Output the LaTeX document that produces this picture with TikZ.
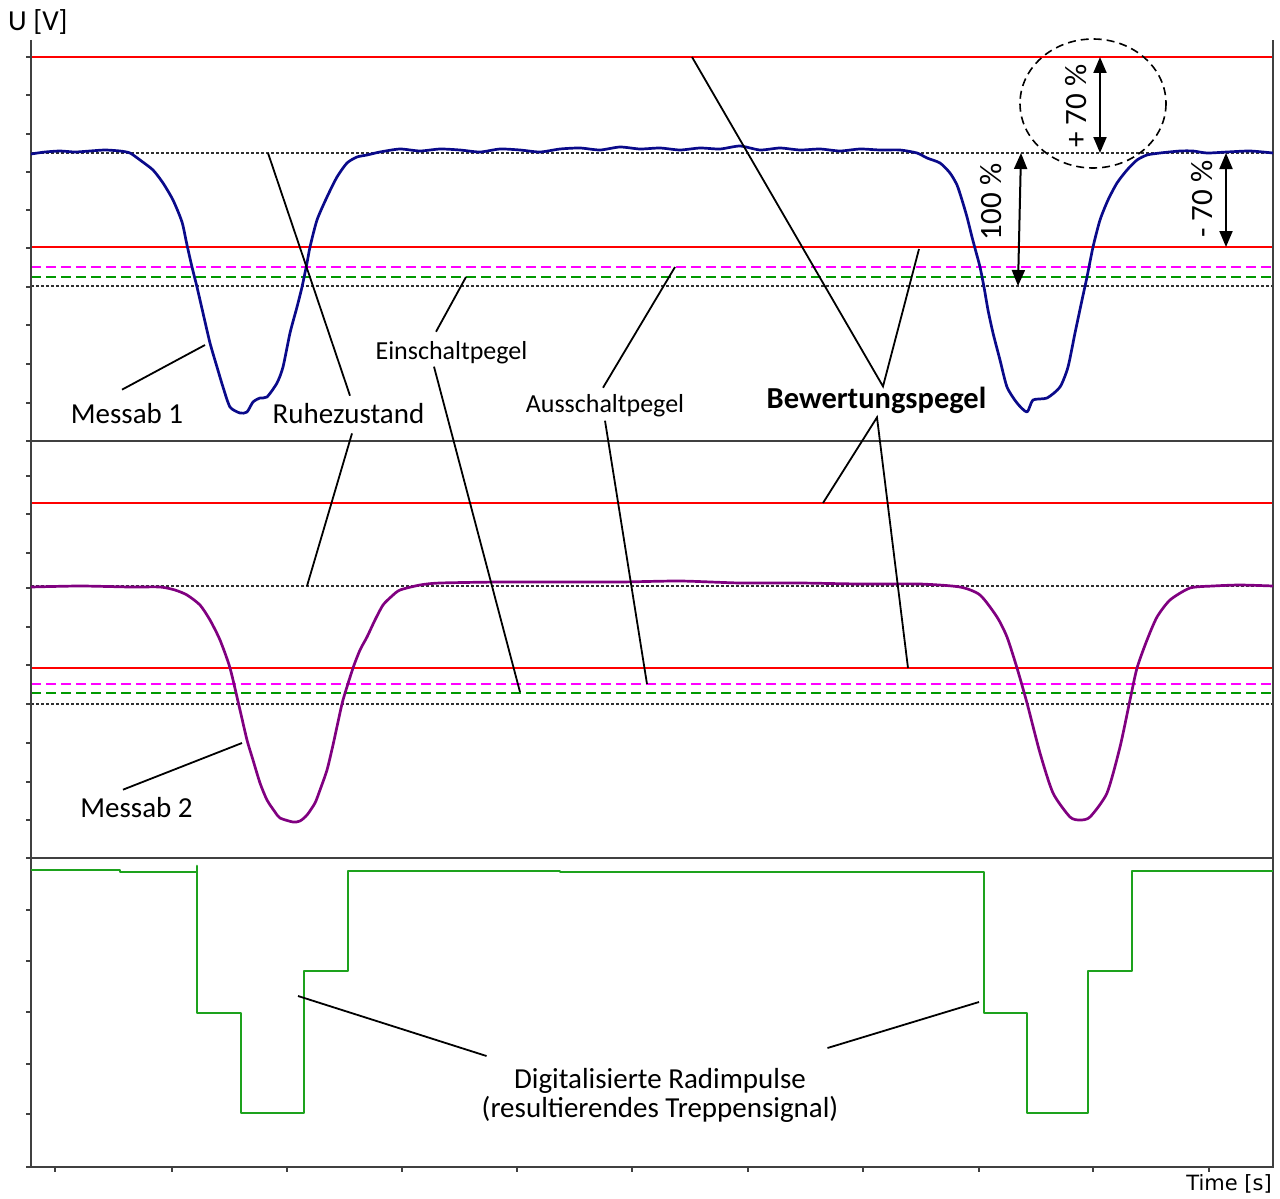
\documentclass[tikz,border=0pt]{standalone}
\usepackage{fontspec}
\setmainfont{Carlito}
\newfontfamily\axisfont{DejaVu Sans}
\usepackage{tikz}
\usepackage{xcolor}
\usetikzlibrary{arrows.meta, positioning, calc}
\definecolor{LevelRed}{HTML}{FF0000}
\definecolor{LevelMagenta}{HTML}{FF00FF}
\definecolor{LevelGreen}{HTML}{009A00}
\definecolor{TraceBlue}{HTML}{0A0A8A}
\definecolor{TracePurple}{HTML}{800080}
\definecolor{TraceGreen}{HTML}{1DA21D}
\definecolor{AxisGray}{HTML}{404040}
\definecolor{DotGray}{HTML}{303030}
\tikzset{
    % Axis and panel styles
    axisline/.style={
        draw=AxisGray,
        line width=1.5pt
    },
    panelline/.style={
        draw=AxisGray,
        line width=1.3pt
    },
    % Level styles
    redlevel/.style={
        draw=LevelRed,
        line width=2.7pt
    },
    offlevel/.style={
        draw=LevelMagenta,
        line width=2.5pt,
        dash pattern=on 10pt off 5pt
    },
    onlevel/.style={
        draw=LevelGreen,
        line width=2.5pt,
        dash pattern=on 10pt off 5pt
    },
    restlevel/.style={
        draw=DotGray,
        line width=1.1pt,
        dash pattern=on 3pt off 2pt
    },
    % Trace styles
    trace/.style={
        line width=2.7pt,
        line join=round
    },
    % Annotation styles
    leader/.style={
        draw=black,
        line width=1.8pt
    },
    dimarrow/.style={
        {Triangle[length=16pt,width=13pt]}-{Triangle[length=16pt,width=13pt]},
        line width=2pt,
        black
    },
    bigtext/.style={
        inner sep=0pt,
        anchor=base,
        font=\fontsize{29}{29}\selectfont
    },
    pegeltext/.style={
        inner sep=0pt,
        anchor=base,
        font=\fontsize{26}{26}\selectfont
    },
    boldtext/.style={
        inner sep=0pt,
        anchor=base,
        font=\fontsize{30.5}{30.5}\selectfont\bfseries
    },
    pcttext/.style={
        inner sep=0pt,
        rotate=90,
        font=\fontsize{31}{31}\selectfont
    }
}

\begin{document}
\begin{tikzpicture}[x=1pt,y=-1pt]
    \useasboundingbox (0,0) rectangle (1280,1199);

    % Levels, upper panel
    \draw[redlevel] (31,57) -- (1273,57);
    \draw[restlevel] (31,153) -- (1273,153);
    \draw[redlevel] (31,247) -- (1273,247);
    \draw[offlevel] (31,267) -- (1273,267);
    \draw[onlevel] (31,277) -- (1273,277);
    \draw[restlevel] (31,286) -- (1273,286);

    % Levels, middle panel
    \draw[redlevel] (31,503) -- (1273,503);
    \draw[restlevel] (31,586) -- (1273,586);
    \draw[redlevel] (31,668) -- (1273,668);
    \draw[offlevel] (31,684) -- (1273,684);
    \draw[onlevel] (31,693) -- (1273,693);
    \draw[restlevel] (31,704) -- (1273,704);

    % Axes and panels
    \draw[axisline] (31,40) -- (31,1167);
    \draw[axisline] (26,1167) -- (1273,1167) -- (1273,40);
    \draw[panelline] (26,441) -- (1273,441);
    \draw[panelline] (26,858) -- (1273,858);
    \foreach \y in {57,95,134,172,210,248,287,325,364,403,476,514,553,588,627,665,704,743,782,820,910,961,1012,1064,1114}
        \draw[axisline] (26,\y) -- (31,\y);
    \foreach \x in {55,172,287,402,517,632,748,863,979,1093,1209}
        \draw[axisline] (\x,1167) -- (\x,1172);

    % Messab 1
    \draw[trace,TraceBlue] plot[smooth,tension=0.4] coordinates {
        (31,154) (45,152) (60,151) (75,152) (90,151) (105,150) (120,151) (130,153)
        (140,160) (153,170) (163,183) (173,200) (182,222) (187,245) (192,267)
        (197,287) (203,313) (210,343) (217,367) (223,387) (230,407) (240,413)
        (247,412) (253,402) (260,398) (267,397) (277,383) (283,367) (290,333)
        (297,307) (302,287) (307,263) (310,247) (317,220) (327,197) (337,177)
        (347,163) (357,157) (367,155) (380,152) (400,149) (420,151) (440,149)
        (460,150) (480,152) (500,149) (520,150) (540,152) (560,149) (580,148)
        (600,150) (620,147) (640,149) (660,148) (680,150) (700,148) (720,149)
        (740,146) (760,150) (780,148) (800,150) (820,149) (840,151) (860,149)
        (880,150) (900,150) (917,153) (927,158) (940,163) (950,173) (957,185)
        (962,200) (967,217) (972,237) (976,252) (980,267) (984,287) (988,310)
        (993,333) (1000,360) (1007,387) (1017,403) (1027,412) (1033,400)
        (1047,398) (1060,387) (1068,367) (1075,333) (1082,300) (1087,277)
        (1093,247) (1100,220) (1108,200) (1117,183) (1127,170) (1137,160)
        (1147,155) (1160,153) (1180,151) (1193,151) (1207,153) (1227,152)
        (1250,151) (1273,153)};

    % Messab 2
    \draw[trace,TracePurple] plot[smooth,tension=0.4] coordinates {
        (31,587) (80,586) (130,587) (160,587) (175,590) (187,595) (200,605)
        (210,620) (220,640) (230,668) (240,710) (247,740) (253,760) (260,783)
        (267,800) (275,812) (280,818) (293,822) (300,821) (307,815) (315,803)
        (320,790) (327,770) (333,745) (338,722) (343,700) (353,668) (360,650)
        (367,637) (375,620) (383,605) (392,596) (400,590) (420,585) (440,583)
        (500,582) (560,582) (620,582) (680,581) (740,583) (800,583) (860,584)
        (920,584) (960,587) (980,595) (997,617) (1007,637) (1017,668)
        (1027,703) (1040,753) (1053,793) (1070,817) (1080,820) (1090,817)
        (1107,793) (1120,747) (1130,700) (1137,668) (1147,640) (1157,617)
        (1170,600) (1190,588) (1213,586) (1240,585) (1273,586)};

    % Treppensignal
    \draw[trace,TraceGreen] (31,870) -- (120,870) -- (120,872) -- (197,872)
        -- (197,866) -- (197,1013) -- (241,1013) -- (241,1113) -- (304,1113)
        -- (304,971) -- (348,971) -- (348,871) -- (560,871) -- (560,872)
        -- (984,872) -- (984,1013) -- (1027,1013) -- (1027,1113) -- (1088,1113)
        -- (1088,971) -- (1132,971) -- (1132,871) -- (1273,871);

    % Labels
    \node[bigtext,anchor=base west] (uaxis) at (8,31) {U [V]};
    \node[inner sep=0pt,anchor=base east,font=\axisfont\fontsize{21}{21}\selectfont] (taxis) at (1272,1190) {Time [s]};
    \node[bigtext] (messab1) at (127,423) {Messab 1};
    \node[bigtext] (messab2) at (136.5,817) {Messab 2};
    \node[bigtext] (ruhe) at (348.5,423) {Ruhezustand};
    \node[pegeltext] (einschalt) at (451.5,359) {Einschaltpegel};
    \node[pegeltext] (ausschalt) at (605,412) {Ausschaltpegel};
    \node[boldtext] (bewertung) at (876.5,408) {Bewertungspegel};
    \node[bigtext,anchor=north,align=center] (digital) at (660,1068) {Digitalisierte Radimpulse\\(resultierendes Treppensignal)};

    % Leader tips
    \coordinate (m1tip) at (205,345);
    \coordinate (m2tip) at (242,743);
    \coordinate (ruhetop) at (268,153);
    \coordinate (ruhebot) at (307,586);
    \coordinate (eintop) at (466,277);
    \coordinate (einbot) at (520,692);
    \coordinate (austop) at (675,267);
    \coordinate (ausbot) at (647,684);
    \coordinate (bewtopA) at (692,57);
    \coordinate (bewtopB) at (919,249);
    \coordinate (bewbotA) at (823,503);
    \coordinate (bewbotB) at (908,668);
    \coordinate (digA) at (298,996);
    \coordinate (digB) at (979,1002);

    % Leaders
    \draw[leader] ([shift={(-5,-13)}]messab1.north) -- (m1tip);
    \draw[leader] ([shift={(-13.5,-7)}]messab2.north) -- (m2tip);
    \draw[leader] ([shift={(1.5,-7)}]ruhe.north) -- (ruhetop);
    \draw[leader] ([shift={(3.5,10)}]ruhe.south) -- (ruhebot);
    \draw[leader] ([shift={(-15.5,-9)}]einschalt.north) -- (eintop);
    \draw[leader] ([shift={(-17.5,3)}]einschalt.south) -- (einbot);
    \draw[leader] ([shift={(-2,-6)}]ausschalt.north) -- (austop);
    \draw[leader] ([shift={(0,4)}]ausschalt.south) -- (ausbot);
    \draw[leader] (bewtopA) -- ([shift={(6.5,0)}]bewertung.north) -- (bewtopB);
    \draw[leader] (bewbotA) -- ([shift={(0.5,4)}]bewertung.south) -- (bewbotB);
    \draw[leader] ([shift={(5,-12)}]digital.north west) -- (digA);
    \draw[leader] ([shift={(-11,-20)}]digital.north east) -- (digB);

    % Percentages
    \coordinate (p100top) at (1021,153);
    \coordinate (p100bot) at (1018,286);
    \coordinate (p70top) at (1100,57);
    \coordinate (p70bot) at (1100,153);
    \coordinate (m70top) at (1226,153);
    \coordinate (m70bot) at (1226,247);
    \draw[dimarrow] (p100top) -- (p100bot);
    \draw[dimarrow] (p70top) -- (p70bot);
    \draw[dimarrow] (m70top) -- (m70bot);
    \node[pcttext] (pct100) at (991,202) {100 \%};
    \node[pcttext] (pctplus) at (1076,106) {+ 70 \%};
    \node[pcttext] (pctminus) at (1202,199) {- 70 \%};
    \draw[line width=1.6pt,dash pattern=on 8pt off 5pt] (1093,103.5) ellipse [x radius=73, y radius=64.5];
\end{tikzpicture}
\end{document}
